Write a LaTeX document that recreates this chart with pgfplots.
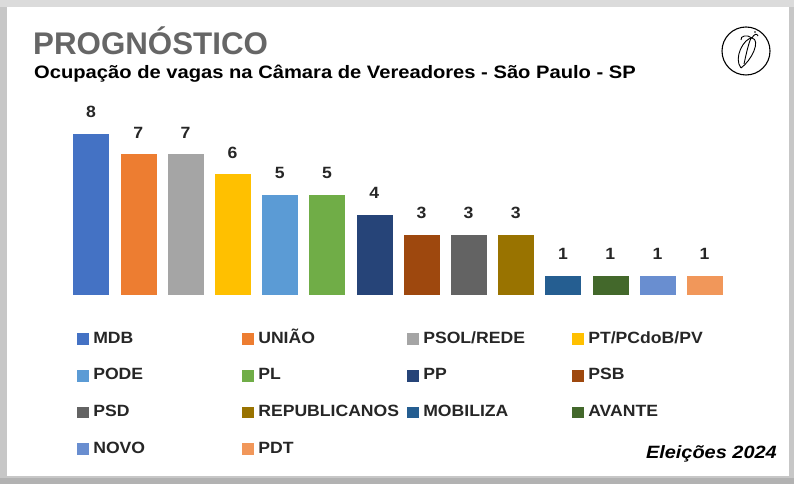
\documentclass[border=0pt]{standalone}
\usepackage{pgfplots}
\pgfplotsset{compat=1.18}
\usepackage{fontspec}
\setmainfont{Liberation Sans}
\newfontfamily\subfont[FakeStretch=1.12]{Liberation Sans}
\newfontfamily\legfont[FakeStretch=1.08]{Liberation Sans}

\definecolor{cMDB}{HTML}{4472C4}
\definecolor{cUNIAO}{HTML}{ED7D31}
\definecolor{cPSOL}{HTML}{A5A5A5}
\definecolor{cPT}{HTML}{FFC000}
\definecolor{cPODE}{HTML}{5B9BD5}
\definecolor{cPL}{HTML}{70AD47}
\definecolor{cPP}{HTML}{264478}
\definecolor{cPSB}{HTML}{9E480E}
\definecolor{cPSD}{HTML}{636363}
\definecolor{cREP}{HTML}{997300}
\definecolor{cMOB}{HTML}{255E91}
\definecolor{cAVA}{HTML}{43682B}
\definecolor{cNOVO}{HTML}{698ED0}
\definecolor{cPDT}{HTML}{F1975A}

\newcommand{\lblfont}{\legfont\fontsize{16.3bp}{18bp}\selectfont\bfseries}

\begin{document}
\begin{tikzpicture}
% frame with shadow
\fill[black!22] (0bp,0bp) rectangle (794bp,484bp);
\fill[black!14] (0bp,477bp) rectangle (794bp,484bp);
\fill[black!30] (0bp,0bp) rectangle (794bp,6bp);
\fill[white] (7bp,8bp) rectangle (789bp,477bp);

% titles
\node[anchor=base west, inner sep=0pt, text=black!60,
      font=\fontsize{31.3bp}{33bp}\selectfont\bfseries] at (33bp,429bp) {PROGNÓSTICO};
\node[anchor=base west, inner sep=0pt,
      font=\subfont\fontsize{18bp}{20bp}\selectfont\bfseries] at (34bp,405bp)
      {Ocupação de vagas na Câmara de Vereadores - São Paulo - SP};
\node[anchor=base east, inner sep=0pt,
      font=\subfont\fontsize{17.8bp}{19bp}\selectfont\bfseries\itshape] at (777bp,26bp) {Eleições 2024};

% logo
\draw[line width=1.1bp] (746bp,433bp) circle (24bp);
\begin{scope}[line width=0.9bp]
\draw (741bp,416bp) .. controls (733bp,426bp) and (744bp,446bp) .. (752bp,446bp)
   .. controls (761bp,444bp) and (752bp,424bp) .. (741bp,416bp);
\draw (744bp,420bp) .. controls (746bp,429bp) and (748bp,439bp) .. (751bp,446bp);
\draw (752bp,446bp) .. controls (747bp,450bp) and (740bp,448bp) .. (741bp,444bp);
\draw (752bp,446bp) .. controls (754bp,450bp) and (757bp,451bp) .. (758bp,448bp);
\fill (755bp,452bp) circle (0.9bp);
\end{scope}

\begin{axis}[
  at={(43.8bp,189bp)}, anchor=south west,
  scale only axis, width=708bp, height=182.25bp,
  xmin=0, xmax=15, ymin=0, ymax=9,
  hide axis, clip=false,
  ybar, bar width=37bp, bar shift=0pt,
  every axis plot/.append style={draw=white, line width=0.4bp},
  /pgf/number format/assume math mode=true,
  nodes near coords,
  every node near coord/.append style={font=\lblfont, inner sep=0pt, anchor=south, yshift=15bp, text=black!85},
  legend columns=4,
  legend cell align=left,
  legend image code/.code={\fill[#1, draw=none] (0bp,-5.8bp) rectangle (11.6bp,5.8bp);},
  legend style={draw=none, fill=none, at={(0.0469,-0.197)}, anchor=north west,
     inner sep=0pt, row sep=20.7bp,
     nodes={inner sep=0pt, text width=148.9bp, text height=12bp, text depth=4bp, font=\lblfont, text=black!85},
     /tikz/every odd column/.append style={column sep=4.5bp}},
]
\addplot[fill=cMDB] coordinates {(1,8)};
\addlegendentry{MDB}
\addplot[fill=cUNIAO] coordinates {(2,7)};
\addlegendentry{UNIÃO}
\addplot[fill=cPSOL] coordinates {(3,7)};
\addlegendentry{PSOL/REDE}
\addplot[fill=cPT] coordinates {(4,6)};
\addlegendentry{PT/PCdoB/PV}
\addplot[fill=cPODE] coordinates {(5,5)};
\addlegendentry{PODE}
\addplot[fill=cPL] coordinates {(6,5)};
\addlegendentry{PL}
\addplot[fill=cPP] coordinates {(7,4)};
\addlegendentry{PP}
\addplot[fill=cPSB] coordinates {(8,3)};
\addlegendentry{PSB}
\addplot[fill=cPSD] coordinates {(9,3)};
\addlegendentry{PSD}
\addplot[fill=cREP] coordinates {(10,3)};
\addlegendentry{REPUBLICANOS}
\addplot[fill=cMOB] coordinates {(11,1)};
\addlegendentry{MOBILIZA}
\addplot[fill=cAVA] coordinates {(12,1)};
\addlegendentry{AVANTE}
\addplot[fill=cNOVO] coordinates {(13,1)};
\addlegendentry{NOVO}
\addplot[fill=cPDT] coordinates {(14,1)};
\addlegendentry{PDT}
\end{axis}
\end{tikzpicture}
\end{document}
